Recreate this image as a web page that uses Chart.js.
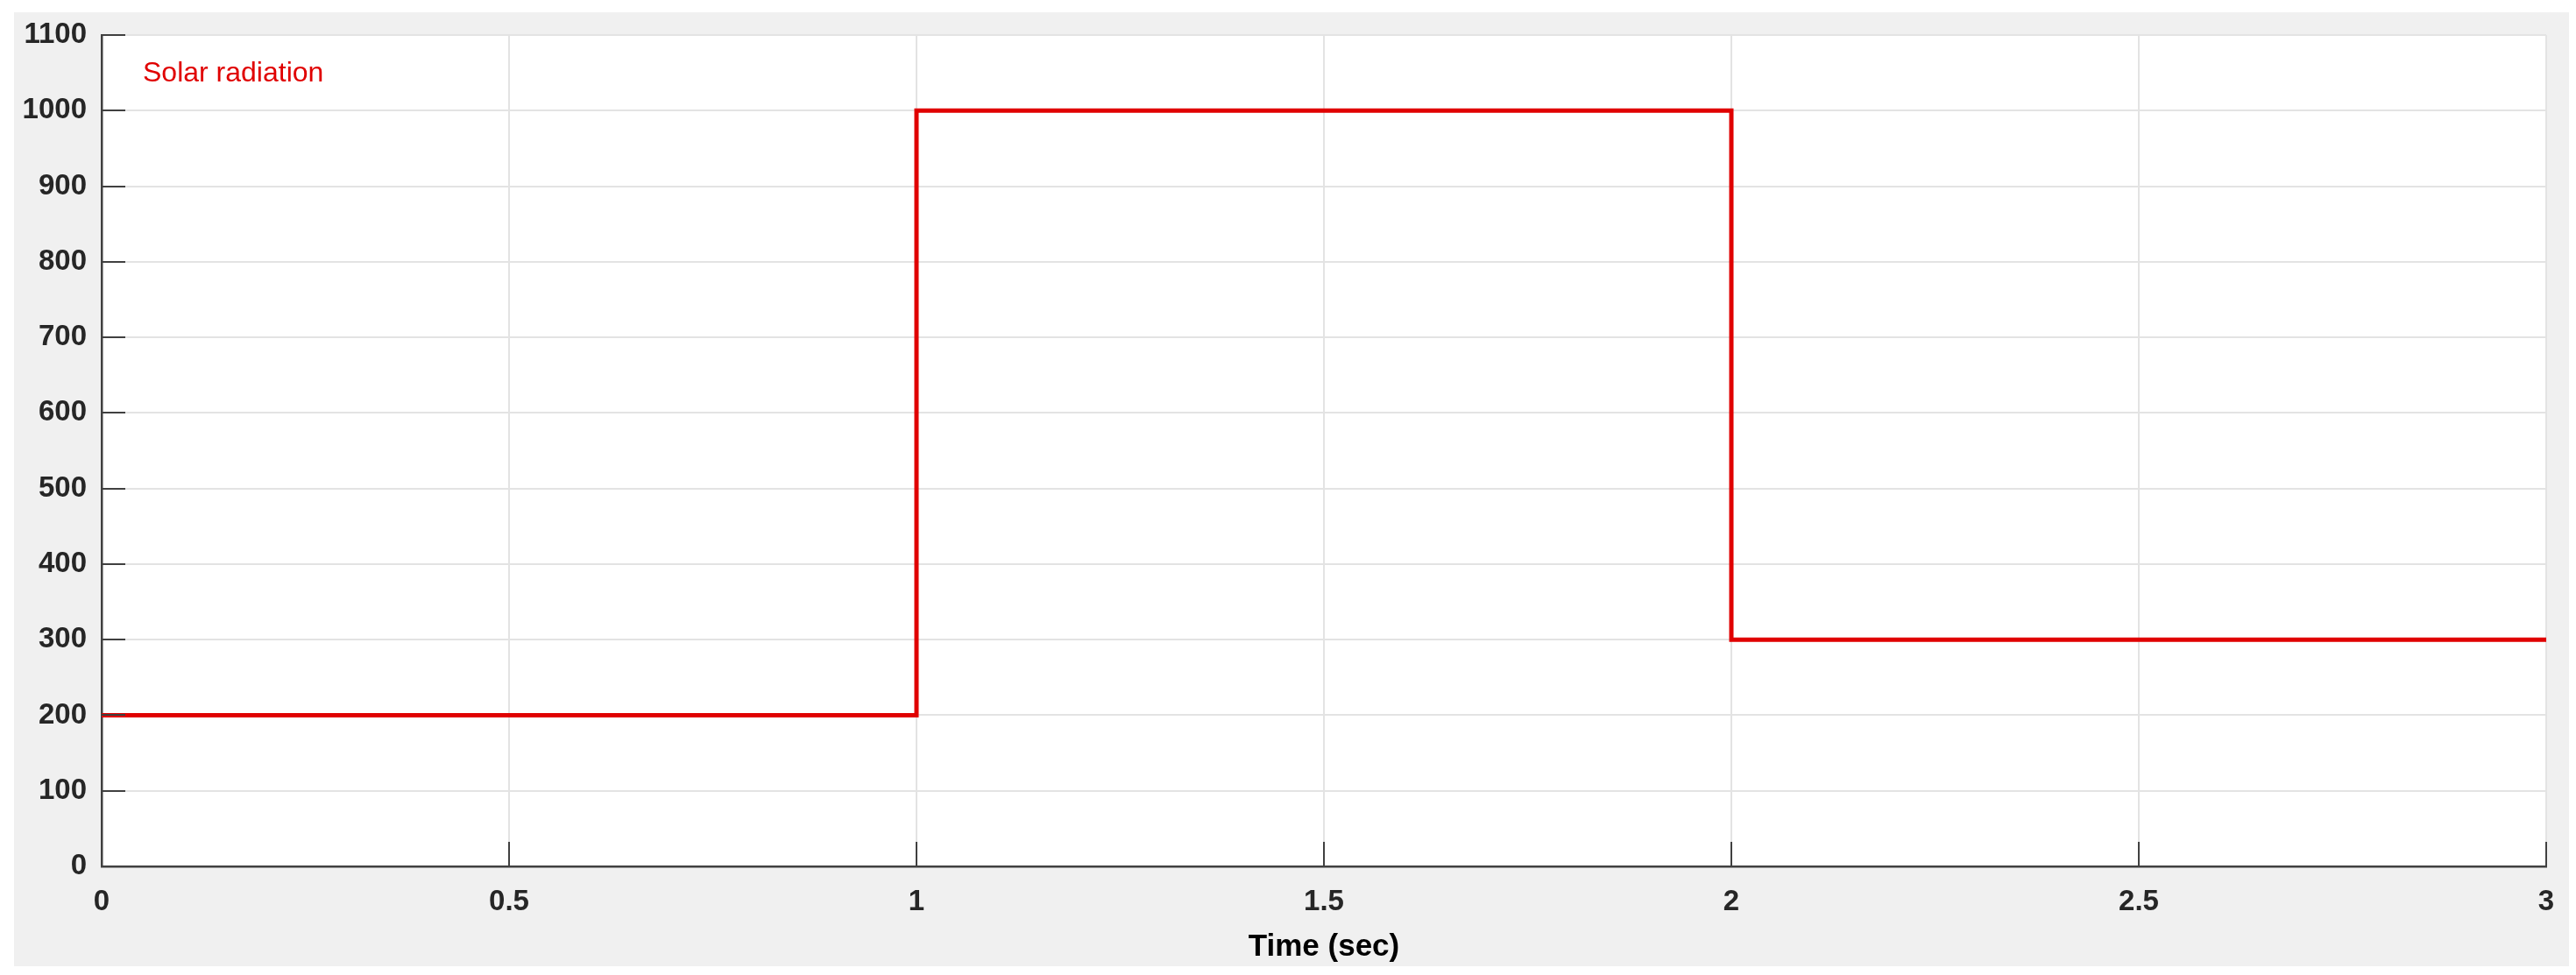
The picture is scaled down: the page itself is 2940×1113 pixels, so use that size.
<!DOCTYPE html>
<html>
<head>
<meta charset="utf-8">
<script src="https://cdn.jsdelivr.net/npm/chart.js@4"></script>
<style>
  html, body { margin: 0; padding: 0; background: #ffffff; }
  #wrap { width: 2940px; height: 1113px; }
</style>
</head>
<body>
<div id="wrap"><canvas id="solarChart" width="2940" height="1113"></canvas></div>
<script>
// values
const seriesName = 'Solar radiation';
const timeSec = [0, 1, 2, 3];
const radiation = [200, 1000, 300, 300];
const xTicks = [0, 0.5, 1, 1.5, 2, 2.5, 3];
const yTicks = [0, 100, 200, 300, 400, 500, 600, 700, 800, 900, 1000, 1100];

const labelFont = 'Liberation Sans, Arial, Helvetica, sans-serif';

// gray figure panel, white axes box, inner tick marks and the label text
const scopePlugin = {
  id: 'scope',
  beforeDraw(chart) {
    const ctx = chart.ctx;
    const a = chart.chartArea;
    ctx.save();
    ctx.fillStyle = '#f0f0f0';
    ctx.fillRect(16, 14, 2916, 1089);
    ctx.fillStyle = '#ffffff';
    ctx.fillRect(a.left, a.top, a.right - a.left, a.bottom - a.top);
    ctx.restore();
  },
  afterDraw(chart) {
    const ctx = chart.ctx;
    const a = chart.chartArea;
    const xs = chart.scales.x;
    const ys = chart.scales.y;
    ctx.save();
    ctx.strokeStyle = '#404040';
    ctx.lineWidth = 2;
    ctx.beginPath();
    xTicks.forEach(function(t) {
      let px = Math.round(xs.getPixelForValue(t));
      ctx.moveTo(px, a.bottom);
      ctx.lineTo(px, a.bottom - 28);
    });
    yTicks.forEach(function(t) {
      let py = Math.round(ys.getPixelForValue(t));
      ctx.moveTo(a.left, py);
      ctx.lineTo(a.left + 27, py);
    });
    ctx.stroke();

    ctx.fillStyle = '#e00000';
    ctx.font = '32px ' + labelFont;
    ctx.textBaseline = 'alphabetic';
    ctx.fillText(chart.data.datasets[0].label, a.left + 47, a.top + 53);
    ctx.restore();
  }
};

let points = [];
for (let i = 0; i < timeSec.length; i++) {
  points.push({ x: timeSec[i], y: radiation[i] });
}

new Chart(document.getElementById('solarChart'), {
  type: 'line',
  data: {
    datasets: [{
      label: seriesName,
      data: points,
      stepped: 'before',
      borderColor: '#e00000',
      borderWidth: 5,
      pointRadius: 0,
      fill: false
    }]
  },
  options: {
    responsive: false,
    animation: false,
    events: [],
    layout: {
      padding: { left: 16, top: 40, right: 34, bottom: 10 }
    },
    plugins: {
      legend: { display: false },
      tooltip: { enabled: false }
    },
    scales: {
      x: {
        type: 'linear',
        min: 0,
        max: 3,
        afterBuildTicks(scale) {
          scale.ticks = xTicks.map(v => ({ value: v }));
        },
        afterFit(scale) { scale.height = 114; },
        grid: { color: '#e3e3e3', lineWidth: 2, drawTicks: false },
        border: { color: '#404040', width: 2.5 },
        ticks: {
          padding: 21,
          color: '#262626',
          font: { family: labelFont, size: 33, weight: 'bold' },
          callback: v => String(v)
        },
        title: {
          display: true,
          text: 'Time (sec)',
          color: '#000000',
          padding: { top: 0, bottom: 1 },
          font: { family: labelFont, size: 35, weight: 'bold' }
        }
      },
      y: {
        type: 'linear',
        min: 0,
        max: 1100,
        afterBuildTicks(scale) {
          scale.ticks = yTicks.map(v => ({ value: v }));
        },
        afterFit(scale) { scale.width = 100; },
        grid: { color: '#e3e3e3', lineWidth: 2, drawTicks: false },
        border: { color: '#404040', width: 2.5 },
        ticks: {
          padding: 17,
          color: '#262626',
          font: { family: labelFont, size: 33, weight: 'bold' },
          callback: v => String(v)
        }
      }
    }
  },
  plugins: [scopePlugin]
});
</script>
</body>
</html>
